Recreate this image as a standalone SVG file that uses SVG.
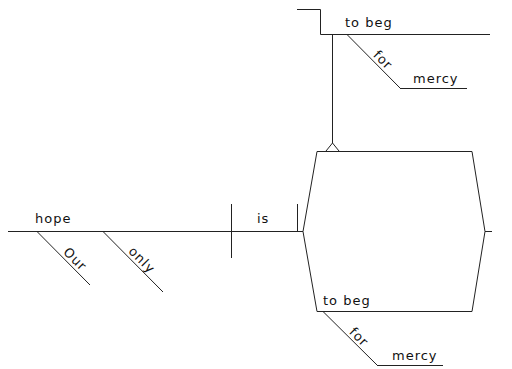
<svg xmlns="http://www.w3.org/2000/svg" width="512" height="369" viewBox="0 0 512 369">
<style>
line,polyline,path{stroke:#222;stroke-width:1;fill:none}
text{font-family:"DejaVu Sans",sans-serif;font-size:13px;letter-spacing:1px;fill:#111}
</style>
<rect width="512" height="369" fill="#fff"/>
<g id="connectors">
<line x1="8" y1="231.5" x2="303" y2="231.5"/>
<line x1="231.5" y1="204" x2="231.5" y2="258"/>
<line x1="297.5" y1="204" x2="297.5" y2="231.5"/>
<line x1="332.5" y1="34" x2="332.5" y2="143"/>
<polyline points="326,151 332.5,143 339,151"/>
</g>
<g id="node-hope">
<text x="35" y="223">hope</text>
<line x1="37" y1="231.5" x2="90" y2="285"/>
<line x1="103" y1="231.5" x2="163" y2="292"/>
</g>
<g id="node-our">
<text transform="translate(37,231.5) rotate(45)" x="33" y="-3">Our</text>
</g>
<g id="node-only">
<text transform="translate(103,231.5) rotate(45)" x="32" y="-3">only</text>
</g>
<g id="node-is">
<text x="257" y="223">is</text>
</g>
<g id="node-frame">
<polyline points="303,231.5 317,151.5 472,151.5 485,231.5 472,311.5"/>
<line x1="303" y1="231.5" x2="317" y2="311.5"/>
<line x1="485" y1="231.5" x2="492" y2="231.5"/>
</g>
<g id="node-tobeg-top">
<polyline points="297,9.5 320.5,9.5 320.5,34.5 490,34.5"/>
<text x="345" y="27">to beg</text>
<line x1="347" y1="34.5" x2="400" y2="88"/>
<line x1="400" y1="88.5" x2="467" y2="88.5"/>
<text transform="translate(347,34.5) rotate(45)" x="33" y="-3">for</text>
<text x="413" y="83">mercy</text>
</g>
<g id="node-tobeg-bottom">
<line x1="317" y1="311.5" x2="472" y2="311.5"/>
<text x="323" y="305">to beg</text>
<line x1="323" y1="311.5" x2="377" y2="365"/>
<line x1="377" y1="365.5" x2="443" y2="365.5"/>
<text transform="translate(323,311.5) rotate(45)" x="33" y="-3">for</text>
<text x="392" y="360">mercy</text>
</g>
</svg>
